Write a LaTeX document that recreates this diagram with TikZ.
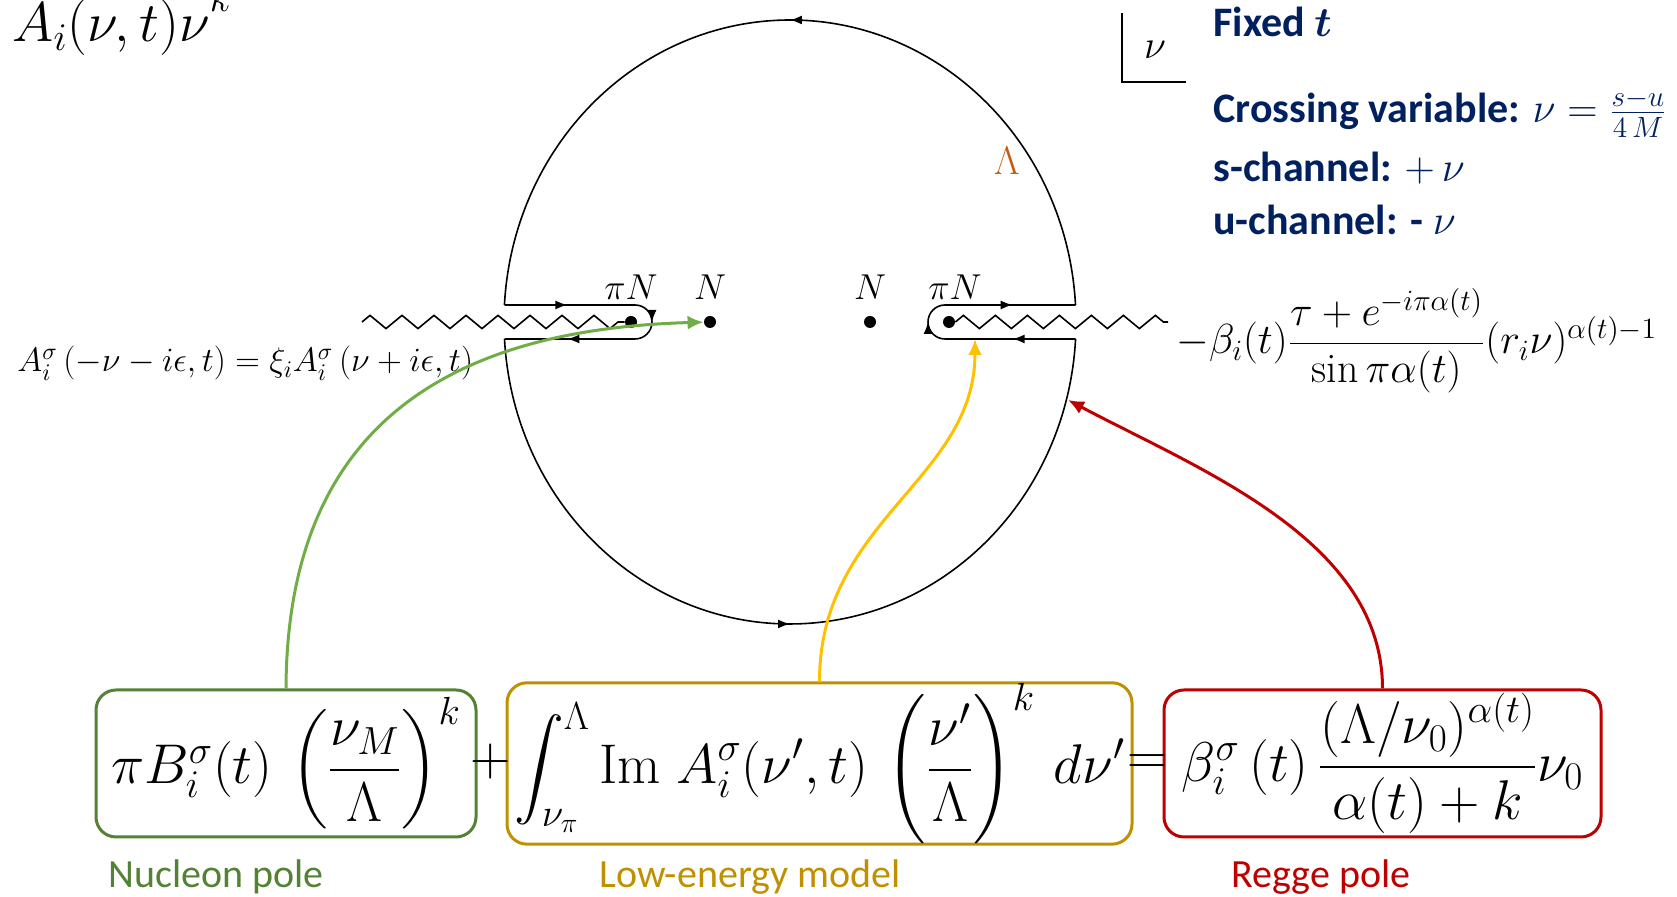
\RequirePackage{fix-cm}
\documentclass[tikz,border=0pt]{standalone}
\usepackage{amsmath,bm}
\usepackage{fontspec}
\newfontfamily\calibri{Carlito}
\usetikzlibrary{arrows.meta,positioning,decorations.markings,decorations.pathmorphing}

\definecolor{navy}{HTML}{002060}
\definecolor{lamorange}{HTML}{C55A11}
\definecolor{polegreen}{HTML}{548235}
\definecolor{arrowgreen}{HTML}{70AD47}
\definecolor{lowgold}{HTML}{BF9000}
\definecolor{arrowgold}{HTML}{FFC000}
\definecolor{reggered}{HTML}{C00000}

\tikzset{flowtip/.tip={Latex[length=6pt,width=4.5pt]}}

\begin{document}
\begin{tikzpicture}[
    x=0.5pt, y=0.5pt,
    contour/.style={line width=0.8pt},
    flow/.style={postaction={decorate}, decoration={markings, mark=at position #1 with {\arrow{flowtip}}}},
    keyhole/.style={postaction={decorate}, decoration={markings,
        mark=at position 0.2 with {\arrow{flowtip}},
        mark=at position 0.5 with {\arrow{flowtip}},
        mark=at position 0.8 with {\arrow{flowtip}}}},
    cut/.style={line width=0.8pt, decorate, decoration={zigzag, segment length=16pt, amplitude=3.3pt}},
    pole/.style={circle, fill, inner sep=0pt, minimum size=6pt},
    pname/.style={inner sep=0pt, font=\fontsize{18}{21}\selectfont},
    term/.style={draw, rounded corners=10pt, line width=1.5pt, minimum height=73.5pt, inner sep=0pt, font=\fontsize{28}{33}\selectfont},
    op/.style={inner sep=0pt, font=\fontsize{28}{33}\selectfont},
    note/.style={anchor=base west, inner sep=0pt, text=navy, font=\calibri\bfseries\fontsize{21}{25}\selectfont},
    tag/.style={inner sep=0pt, font=\calibri\fontsize{20}{24}\selectfont},
    link/.style={-{Latex[length=8pt,width=7pt]}, line width=1.5pt}
  ]
    \useasboundingbox (0,0) rectangle (1677,897);

    % contour: big circle split by the two cuts
    \draw[contour, flow=0.5] (1075.5,592) arc[start angle=3.23, end angle=176.77, x radius=286, y radius=302];
    \draw[contour, flow=0.5] (504.5,558) arc[start angle=183.23, end angle=356.77, x radius=286, y radius=302];
    \draw[contour, keyhole] (504.5,592) -- (635,592) arc[start angle=90, end angle=-90, radius=17] -- (504.5,558);
    \draw[contour, keyhole] (1075.5,558) -- (945,558) arc[start angle=270, end angle=90, radius=17] -- (1075.5,592);

    % poles and cuts
    \node[pole] (piL) at (631,575) {};
    \node[pole] (nL) at (710,575) {};
    \node[pole] (nR) at (870,575) {};
    \node[pole] (piR) at (949,575) {};
    \node[pname, above=8pt of piL] (piLlab) {$\pi N$};
    \node[pname, above=8pt of nL] (nLlab) {$N$};
    \node[pname, above=8pt of nR] (nRlab) {$N$};
    \node[pname, above=8pt of piR, xshift=3pt] (piRlab) {$\pi N$};
    \coordinate (zl) at (362,575);
    \coordinate (zr) at (1168,575);
    \draw[cut] (zl) -- (piL);
    \draw[cut] (piR) -- (zr);

    \node[text=lamorange, font=\fontsize{20}{24}\selectfont] (cutoff) at (1007,736) {$\Lambda$};

    % axis corner
    \draw[line width=1pt] (1122,884) |- (1186,815);
    \node[font=\fontsize{20}{24}\selectfont] (nuaxis) at (1155,847) {$\nu$};

    \node[anchor=base west, inner sep=0pt, font=\fontsize{28}{33}\selectfont] (amp) at (12,855)
      {$A_i(\nu,t)\nu^{\raisebox{5pt}{$\scriptstyle k$}}$};
    \node[anchor=base west, inner sep=0pt, font=\fontsize{17}{20}\selectfont] (crossrel) at (17,525)
      {$A_i^\sigma\,(-\nu-i\epsilon,t)=\xi_iA_i^\sigma\,(\nu+i\epsilon,t)$};
    \node[anchor=base west, inner sep=0pt, font=\fontsize{21}{25}\selectfont] (reggeamp) at (1176,543)
      {$-\beta_i(t)\dfrac{\tau+e^{-i\pi\alpha(t)}}{\sin\pi\alpha(t)}(r_i\nu)^{\alpha(t)-1}$};

    \node[note] (fixed) at (1213,860) {Fixed $\bm{t}$};
    \node[note] (crossing) at (1213,774) {Crossing variable: $\nu=\frac{s-u}{4\,M}$};
    \node[note] (schan) at (1213,715) {s-channel: $+\,\nu$};
    \node[note] (uchan) at (1213,662) {u-channel: - $\nu$};

    % sum rule
    \node[term, draw=polegreen, minimum width=190pt] (nucleon) at (286,133.5)
      {$\pi B_i^\sigma(t)\,\left(\dfrac{\nu_M}{\Lambda}\right)^{k}$};
    \node[term, draw=lowgold, minimum width=312.5pt] (lowen) at (819.5,133.5)
      {$\displaystyle\int_{\nu_\pi}^{\Lambda}\mathrm{Im}\;A_i^\sigma(\nu',t)\,\left(\frac{\nu'}{\Lambda}\right)^{k}\,d\nu'$};
    \node[term, draw=reggered, minimum width=218.5pt] (reggebox) at (1382.5,133.5)
      {$\beta_i^\sigma\,(t)\,\dfrac{(\Lambda/\nu_0)^{\alpha(t)}}{\alpha(t)+k}\nu_0$};
    \node[op] (plus) at (491,135.5) {$+$};
    \node[op] (equals) at (1147.5,132) {$=$};

    \node[tag, text=polegreen] (nucleonlab) at (216,20) {Nucleon pole};
    \node[tag, text=lowgold] (lowenlab) at (750,20) {Low-energy model};
    \node[tag, text=reggered] (reggelab) at (1321,20) {Regge pole};

    % arrows to the contour
    \coordinate (cutR) at (975,558);
    \coordinate (rim) at (1068,497);
    \draw[link, arrowgreen] (nucleon.north) .. controls (287,447) and (420,567) .. (nL);
    \draw[link, arrowgold] (lowen.north) .. controls (819.5,377) and (975,417) .. (cutR);
    \draw[link, reggered] (reggebox.north) .. controls (1382.5,357) and (1200,427) .. (rim);
  \end{tikzpicture}
\end{document}
